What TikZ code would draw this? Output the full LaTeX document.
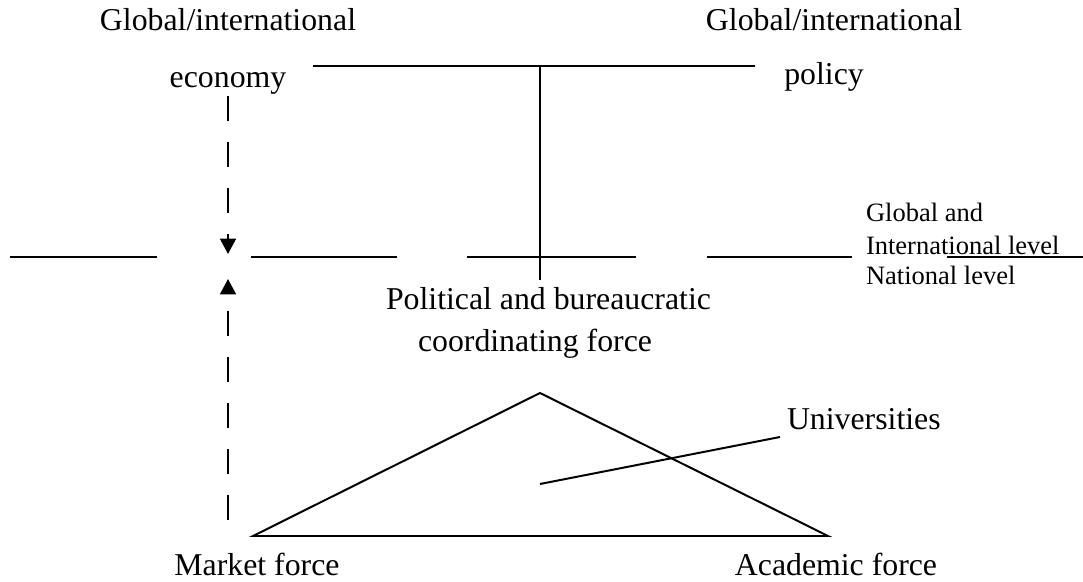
\documentclass[tikz,border=0pt]{standalone}
\usepackage{fontspec}
\setmainfont{Liberation Serif}
\usetikzlibrary{arrows.meta}

\begin{document}
\begin{tikzpicture}
[x=0.3774pt,y=-0.3774pt,line width=0.75pt,
 txt/.style={inner sep=0pt,anchor=base,font=\fontsize{12}{14}\selectfont},
 txtleft/.style={txt,anchor=base west},
 small/.style={inner sep=0pt,anchor=base west,font=\fontsize{10}{12}\selectfont},
 flow/.style={dash pattern=on 9.4pt off 8pt,-{Triangle[length=5.8pt,width=6pt]}}]
\useasboundingbox (0,0) rectangle (1083,582);

\node[txt] (globecon) at (228,31) {Global/international};
\node[txt] (econ) at (228,88) {economy};
\node[txt] (globpol) at (834,31) {Global/international};
\node[txt] (policy) at (824,85) {policy};

\coordinate (topL) at (313,66);
\coordinate (topM) at (540,66);
\coordinate (topR) at (755,66);
\coordinate (stem) at (540,280);
\draw (topL) -- (topR);
\draw (topM) -- (stem);

\foreach \a/\b in {10/157,251/397,467/636,707/852,947/1083}
  \draw (\a,257) -- (\b,257);

\node[small] (glob) at (865,222) {Global and};
\node[small] (intl) at (865,255) {International level};
\node[small] (natl) at (865,285) {National level};

\coordinate (econtip) at (228,254);
\coordinate (mkttip) at (228,279);
\coordinate (mktup) at (228,520);
\draw[flow] (econ.south) -- (econtip);
\draw[flow] (mktup) -- (mkttip);

\node[txtleft] (polit) at (385,310) {Political and bureaucratic};
\node[txtleft] (coord) at (417,352) {coordinating force};

\coordinate (apex) at (540,393);
\coordinate (mkt) at (253,536);
\coordinate (acad) at (828,536);
\draw (mkt) -- (apex) -- (acad) -- cycle;

\coordinate (univin) at (540,484);
\coordinate (univend) at (780,437);
\node[txtleft] (univ) at (786,430) {Universities};
\draw (univin) -- (univend);

\node[txt] (market) at (257,575) {Market force};
\node[txt] (academic) at (836,575) {Academic force};
\end{tikzpicture}
\end{document}
